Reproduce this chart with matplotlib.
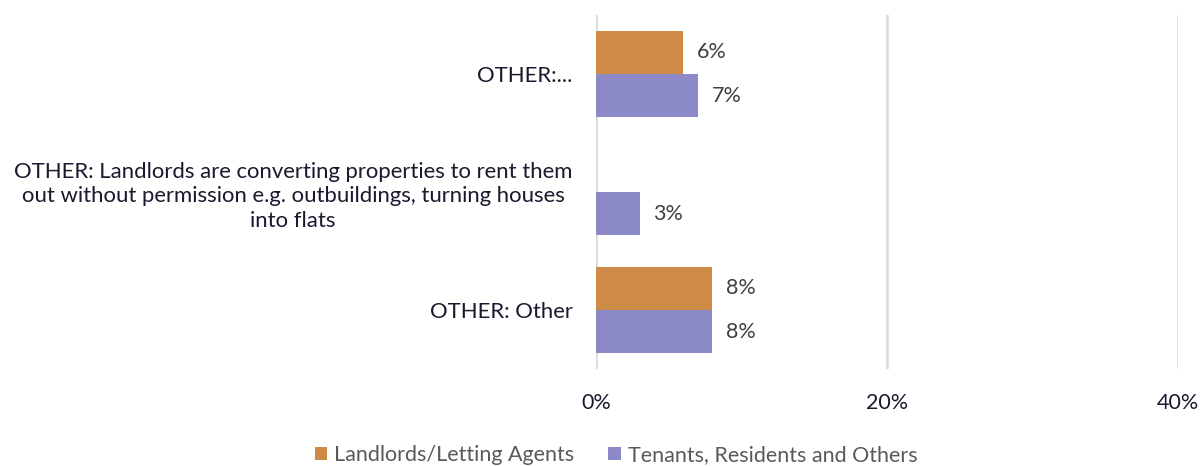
import matplotlib.pyplot as plt
import numpy as np

plt.rcParams['font.family'] = ['Lato', 'DejaVu Sans']

categories = ['OTHER:...',
              'OTHER: Landlords are converting properties to rent them\n'
              'out without permission e.g. outbuildings, turning houses\n'
              'into flats',
              'OTHER: Other']
landlords = [0.06, np.nan, 0.08]
tenants = [0.07, 0.03, 0.08]
series_names = ['Landlords/Letting Agents', 'Tenants, Residents and Others']
xticks = [0, 0.2, 0.4]
xtick_labels = ['0%', '20%', '40%']

c_orange = '#CE8B48'
c_purple = '#8C8AC6'
fs = 15.5

fig = plt.figure(figsize=(12.01, 4.66), dpi=100)
ax = fig.add_axes([596/1201, 1 - 369/466, (1178-596)/1201, (369-15)/466])

y = np.arange(len(categories))
h = 0.366
b1 = ax.barh(y - h/2, landlords, height=h, color=c_orange, label=series_names[0])
b2 = ax.barh(y + h/2, tenants, height=h, color=c_purple, label=series_names[1])

# value labels to the right of each bar
for bars, vals in [(b1, landlords), (b2, tenants)]:
    for rect, v in zip(bars, vals):
        if np.isnan(v):
            continue
        ax.text(v + 0.0095, rect.get_y() + rect.get_height()/2, f'{v*100:.0f}%',
                va='center', ha='left', fontsize=fs, color='#404040')

ax.set_xlim(0, 0.4)
ax.set_ylim(2.5, -0.5)
ax.set_xticks(xticks)
ax.set_xticklabels(xtick_labels, fontsize=fs, color='#1a1a2e')
ax.set_yticks(y)
ax.set_yticklabels(categories, fontsize=15.9, color='#1a1a2e', ha='right',
                   multialignment='center', linespacing=1.3)
ax.tick_params(axis='y', length=0, pad=17)
ax.tick_params(axis='x', length=0, pad=17)
ax.grid(axis='x', color='#d9d9d9', linewidth=1.8)
ax.set_axisbelow(True)
for s in ax.spines.values():
    s.set_visible(False)

fig.legend(handles=[b1, b2], labels=series_names, loc='center',
           bbox_to_anchor=(616/1201, 1 - 455/466), ncol=2, frameon=False,
           fontsize=fs, labelcolor='#595959', handlelength=0.6, handleheight=0.6,
           handletextpad=0.3, columnspacing=1.6)

fig.savefig('out.png', dpi=100)
